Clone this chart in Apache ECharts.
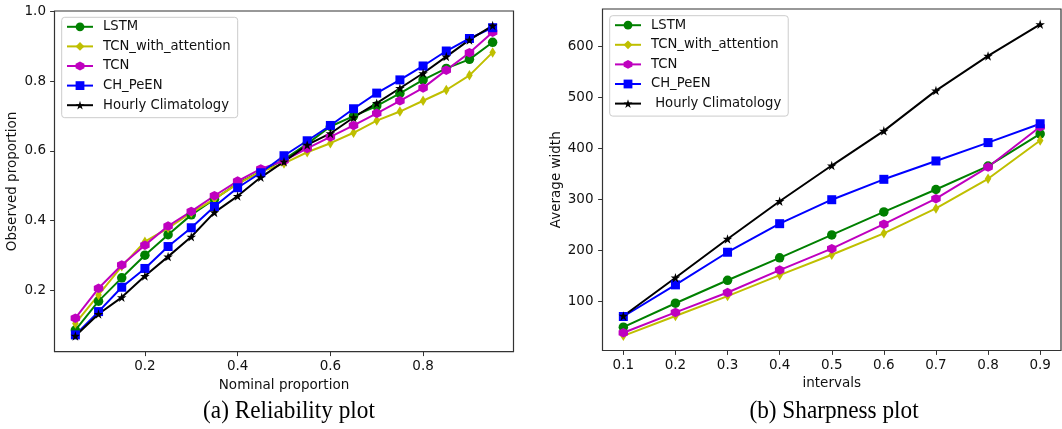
<!DOCTYPE html>
<html>
<head>
<meta charset="utf-8">
<script src="https://cdn.jsdelivr.net/npm/echarts@6/dist/echarts.min.js"></script>
<style>
html, body { margin: 0; padding: 0; background: #fff; }
#main { width: 1062px; height: 429px; }
</style>
</head>
<body>
<div id="main"></div>
<script>
// names of the 5 models
var seriesNames = ['LSTM', 'TCN_with_attention', 'TCN', 'CH_PeEN', 'Hourly Climatology'];

// (a) reliability plot
var nominal = [0.05, 0.10, 0.15, 0.20, 0.25, 0.30, 0.35, 0.40, 0.45, 0.50, 0.55, 0.60, 0.65, 0.70, 0.75, 0.80, 0.85, 0.90, 0.95];
var relLSTM = [0.085, 0.168, 0.235, 0.300, 0.359, 0.416, 0.461, 0.507, 0.540, 0.575, 0.620, 0.670, 0.700, 0.729, 0.765, 0.804, 0.837, 0.863, 0.912];
var relTCNA = [0.104, 0.186, 0.268, 0.339, 0.378, 0.422, 0.462, 0.505, 0.540, 0.564, 0.596, 0.622, 0.652, 0.687, 0.713, 0.744, 0.775, 0.817, 0.883];
var relTCN = [0.119, 0.205, 0.272, 0.329, 0.384, 0.426, 0.471, 0.513, 0.548, 0.572, 0.607, 0.640, 0.673, 0.708, 0.744, 0.781, 0.832, 0.882, 0.941];
var relCH = [0.071, 0.138, 0.208, 0.262, 0.325, 0.379, 0.440, 0.494, 0.537, 0.586, 0.629, 0.673, 0.721, 0.766, 0.804, 0.844, 0.887, 0.923, 0.954];
var relHC = [0.068, 0.131, 0.179, 0.240, 0.296, 0.353, 0.423, 0.470, 0.524, 0.569, 0.617, 0.650, 0.696, 0.737, 0.780, 0.823, 0.871, 0.919, 0.960];
var xTicksA = [0.2, 0.4, 0.6, 0.8];
var yTicksA = [0.2, 0.4, 0.6, 0.8, 1.0];

// (b) sharpness plot
var intervals = [0.1, 0.2, 0.3, 0.4, 0.5, 0.6, 0.7, 0.8, 0.9];
var shLSTM = [50, 97, 142, 186, 231, 276, 320, 366, 429];
var shTCNA = [33, 72, 111, 152, 192, 234, 283, 341, 416];
var shTCN = [39, 79, 118, 162, 204, 252, 302, 364, 443];
var shCH = [71, 133, 197, 253, 300, 340, 376, 412, 449];
var shHC = [72, 147, 223, 297, 367, 435, 514, 582, 644];
var xTicksB = [0.1, 0.2, 0.3, 0.4, 0.5, 0.6, 0.7, 0.8, 0.9];
var yTicksB = [100, 200, 300, 400, 500, 600];

var colors = ['#008000', '#bfbf00', '#bf00bf', '#0000ff', '#000000'];
var starPath = 'path://M0,-100L-22.45,-30.9L-95.11,-30.9L-36.33,11.8L-58.78,80.9L0,38.2L58.78,80.9L36.33,11.8L95.11,-30.9L22.45,-30.9Z';
var hexPath = 'path://M0,-100L-86.6,-50L-86.6,50L0,100L86.6,50L86.6,-50Z';
var symbols = ['circle', 'diamond', hexPath, 'rect', starPath];
var symbolSizes = [9.5, [6.5, 10.5], 9.5, 9, 9.5];

var fontAx = 'DejaVu Sans';
var tickColor = '#111';

function zip(xs, ys) {
	var out = [];
	for (var i = 0; i < xs.length; i++) {
		out.push([xs[i], ys[i]]);
	}
	return out;
}

function makeSeries(idx, xs, ys, axisIdx) {
	return {
		name: seriesNames[idx],
		type: 'line',
		xAxisIndex: axisIdx,
		yAxisIndex: axisIdx,
		data: zip(xs, ys),
		symbol: symbols[idx],
		symbolSize: symbolSizes[idx],
		showAllSymbol: true,
		lineStyle: { color: colors[idx], width: 2 },
		itemStyle: { color: colors[idx], opacity: 1 },
		emphasis: { disabled: true }
	};
}

function valueAxis(gridIdx, min, max, ticks, digits, name, nameGap, margin) {
	return {
		gridIndex: gridIdx,
		type: 'value',
		min: min,
		max: max,
		name: name,
		nameLocation: 'middle',
		nameGap: nameGap,
		nameTextStyle: { fontFamily: fontAx, fontSize: 13.5, color: tickColor },
		splitLine: { show: false },
		axisLine: { show: false },
		axisTick: { show: true, length: 4.4, customValues: ticks, lineStyle: { color: '#333', width: 1 } },
		axisLabel: {
			customValues: ticks,
			margin: margin,
			fontFamily: fontAx,
			fontSize: 13.5,
			color: tickColor,
			formatter: function(v) { return Number(v).toFixed(digits); }
		}
	};
}

function legendBox(left, top, formatter) {
	return {
		data: seriesNames,
		orient: 'vertical',
		left: left,
		top: top,
		itemWidth: 26,
		itemHeight: 11,
		itemGap: 4.6,
		padding: [2, 7, 5, 4.3],
		backgroundColor: 'rgba(255,255,255,0.8)',
		borderColor: '#cccccc',
		borderWidth: 1,
		borderRadius: 3,
		selectedMode: false,
		formatter: formatter,
		textStyle: { fontFamily: fontAx, fontSize: 13.2, lineHeight: 15, color: tickColor, padding: [0, 0, 0, 5] }
	};
}

var myChart = echarts.init(document.getElementById('main'), null, { renderer: 'canvas' });
var option = {
	animation: false,
	backgroundColor: '#fff',
	grid: [{
		left: 54.5, top: 11, width: 459, height: 340.7,
		show: true, borderColor: '#333', borderWidth: 1.2, backgroundColor: '#fff',
		outerBoundsMode: 'none'
	}, {
		left: 602.5, top: 9, width: 458.5, height: 341.5,
		show: true, borderColor: '#333', borderWidth: 1.2, backgroundColor: '#fff',
		outerBoundsMode: 'none'
	}],
	xAxis: [
		valueAxis(0, 0.005, 0.995, xTicksA, 1, 'Nominal proportion', 24, 7.5),
		valueAxis(1, 0.06, 0.94, xTicksB, 1, 'intervals', 24, 7.5)
	],
	yAxis: [
		valueAxis(0, 0.0227, 1.002, yTicksA, 1, 'Observed proportion', 35, 8.5),
		valueAxis(1, 4.3, 674, yTicksB, 0, 'Average width', 39.5, 9)
	],
	legend: [
		legendBox(61.7, 17.3, function(n) { return n; }),
		legendBox(609.7, 15.7, function(n) { return n == 'Hourly Climatology' ? ' ' + n : n; })
	],
	graphic: [{
		type: 'text', x: 289, y: 411, scaleX: 0.93,
		style: { text: '(a) Reliability plot', x: 0, y: 0, textAlign: 'center', textVerticalAlign: 'middle', fontFamily: 'Liberation Serif', fontSize: 25, fill: '#000' }
	}, {
		type: 'text', x: 834, y: 411, scaleX: 0.93,
		style: { text: '(b) Sharpness plot', x: 0, y: 0, textAlign: 'center', textVerticalAlign: 'middle', fontFamily: 'Liberation Serif', fontSize: 25, fill: '#000' }
	}],
	series: [
		makeSeries(0, nominal, relLSTM, 0),
		makeSeries(1, nominal, relTCNA, 0),
		makeSeries(2, nominal, relTCN, 0),
		makeSeries(3, nominal, relCH, 0),
		makeSeries(4, nominal, relHC, 0),
		makeSeries(0, intervals, shLSTM, 1),
		makeSeries(1, intervals, shTCNA, 1),
		makeSeries(2, intervals, shTCN, 1),
		makeSeries(3, intervals, shCH, 1),
		makeSeries(4, intervals, shHC, 1)
	]
};
myChart.setOption(option);
</script>
</body>
</html>
